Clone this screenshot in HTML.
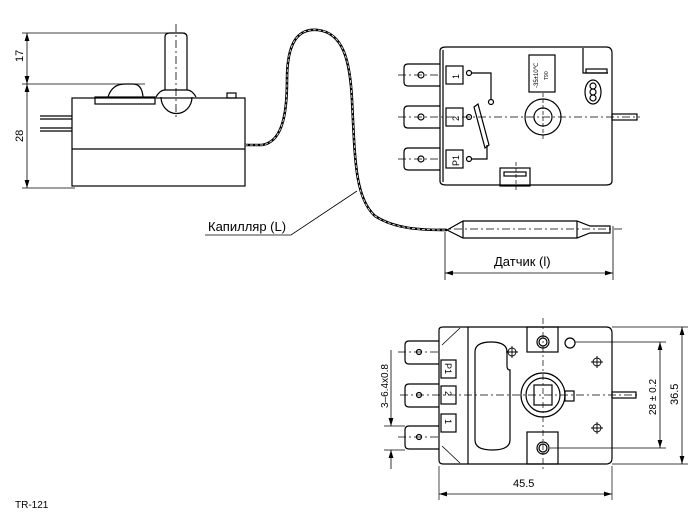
<!DOCTYPE html>
<html><head><meta charset="utf-8"><style>body{margin:0;background:#fff}svg{display:block}text{font-family:"Liberation Sans",sans-serif;fill:#000}</style></head><body>
<svg width="700" height="525" viewBox="0 0 700 525" xmlns="http://www.w3.org/2000/svg" fill="none" stroke="#000" stroke-width="1.2">
<defs><marker id="a" viewBox="0 0 10 6" refX="10" refY="3" markerWidth="10" markerHeight="6" orient="auto-start-reverse"><path d="M0,0L10,3L0,6z" fill="#000" stroke="none"/></marker></defs>
<!-- side view -->
<g>
<line x1="22" y1="33" x2="185" y2="33" stroke-width="0.8"/>
<line x1="22" y1="84" x2="145" y2="84" stroke-width="0.8"/>
<line x1="22" y1="188" x2="75" y2="188" stroke-width="0.8"/>
<line x1="27" y1="33" x2="27" y2="84" marker-start="url(#a)" marker-end="url(#a)" stroke-width="0.8"/>
<line x1="27" y1="84" x2="27" y2="188" marker-start="url(#a)" marker-end="url(#a)" stroke-width="0.8"/>
<text x="0" y="0" transform="translate(23,62) rotate(-90)" font-size="11" stroke="none">17</text>
<text x="0" y="0" transform="translate(23,142) rotate(-90)" font-size="11" stroke="none">28</text>
<rect x="72" y="98" width="173" height="88"/>
<line x1="72" y1="149" x2="245" y2="149"/>
<path d="M165,90 V37 Q165,33 170,33 H182 Q187,33 187,37 V90"/>
<path d="M156,97 Q160,90 165,90 H187 Q192,90 196,97"/>
<path d="M161,97 A15,16 0 0 0 192,97"/>
<rect x="95" y="97" width="60" height="7"/>
<path d="M108,97 Q112,84 125,84 H133 Q142,84 143,97"/>
<rect x="227" y="93" width="9" height="5"/>
<line x1="40" y1="116" x2="72" y2="116"/><line x1="40" y1="119" x2="72" y2="119"/>
<line x1="40" y1="128" x2="72" y2="128"/><line x1="40" y1="131" x2="72" y2="131"/>
<line x1="176" y1="24" x2="176" y2="117" stroke-dasharray="8,3,2,3" stroke-width="0.8"/>
</g>
<!-- capillary -->
<path d="M245,145 H262 C282,142 287,115 287,80 C287,42 298,28 318,30 C343,33 350,60 352,100 C355,160 355,198 375,216 C395,229 420,230 447,230" stroke-width="2.6"/>
<path d="M245,145 H262 C282,142 287,115 287,80 C287,42 298,28 318,30 C343,33 350,60 352,100 C355,160 355,198 375,216 C395,229 420,230 447,230" stroke="#fff" stroke-width="0.8" stroke-dasharray="3,2"/>
<!-- sensor -->
<path d="M447,230 L463,221 H577 L590,226 H610 V233 H590 L577,238 H463 Z"/>
<line x1="463" y1="221" x2="463" y2="238"/><line x1="577" y1="221" x2="577" y2="238"/>
<line x1="438" y1="229" x2="625" y2="229" stroke-dasharray="8,3,2,3" stroke-width="0.8"/>
<line x1="445" y1="232" x2="445" y2="280" stroke-width="0.8"/>
<line x1="613" y1="226" x2="613" y2="280" stroke-width="0.8"/>
<line x1="445" y1="273" x2="613" y2="273" marker-start="url(#a)" marker-end="url(#a)" stroke-width="0.8"/>
<text x="494" y="266" font-size="13" stroke="none">Датчик (l)</text>
<text x="208" y="231" font-size="13" stroke="none">Капилляр (L)</text>
<polyline points="205,235 291,235 357,191" stroke-width="0.8"/>
<!-- top view -->
<g>
<path d="M440,51 Q440,47 446,47 H606 Q612,47 612,53 V181 Q612,185 606,185 H446 Q440,185 440,181 Z"/>
<line x1="443" y1="50" x2="443" y2="182"/>
<path d="M583,48 V73 H608"/><rect x="586" y="69" width="21" height="4"/>
<rect x="500" y="168" width="30" height="18"/><rect x="504" y="172" width="22" height="4"/>
<rect x="529" y="55" width="26" height="37"/>
<text transform="translate(538,88) rotate(-90)" font-size="6" stroke="none">-35±10℃</text>
<text transform="translate(548,80) rotate(-90)" font-size="5" stroke="none">T90</text>
<ellipse cx="593" cy="92" rx="8" ry="12"/><circle cx="593" cy="86" r="3"/><circle cx="593" cy="92" r="3"/><circle cx="593" cy="98" r="3"/>
<circle cx="543" cy="117" r="18"/><circle cx="543" cy="117" r="9"/>
<line x1="543" y1="93" x2="543" y2="141" stroke-dasharray="4,2" stroke-width="0.7"/>
<line x1="516" y1="162" x2="516" y2="192" stroke-dasharray="4,2" stroke-width="0.7"/>
<rect x="612" y="114" width="25" height="6"/>
<g id="t1"><path d="M440,64 H408 Q404,64 404,68 V82 Q404,86 408,86 H440"/><circle cx="421" cy="75" r="3"/></g>
<use href="#t1" y="42"/><use href="#t1" y="84"/>
<line x1="398" y1="75" x2="440" y2="75" stroke-dasharray="8,3,2,3" stroke-width="0.7"/>
<line x1="398" y1="159" x2="440" y2="159" stroke-dasharray="8,3,2,3" stroke-width="0.7"/>
<line x1="398" y1="117" x2="640" y2="117" stroke-dasharray="8,3,2,3" stroke-width="0.8"/>
<rect x="446" y="66" width="17" height="18"/><rect x="446" y="108" width="17" height="18"/><rect x="446" y="150" width="17" height="18"/>
<text transform="translate(459,79) rotate(-90)" font-size="9" stroke="none">1</text>
<text transform="translate(459,121) rotate(-90)" font-size="9" stroke="none">2</text>
<text transform="translate(459,166) rotate(-90)" font-size="9" stroke="none">P1</text>
<circle cx="469" cy="73" r="2.5"/><circle cx="469" cy="117" r="2.5"/><circle cx="469" cy="159" r="2.5"/><circle cx="491" cy="102" r="2.5"/>
<polyline points="471,73 491,73 491,100"/>
<polyline points="471,159 487,159 487,145"/>
<path d="M474,107 L478,104 L489,145 L485,148 Z"/>
</g>
<!-- bottom view -->
<g>
<path d="M439,330 Q439,327 443,327 H606 Q612,327 612,333 V458 Q612,464 606,464 H443 Q439,464 439,460 Z"/>
<line x1="468" y1="327" x2="468" y2="464"/>
<line x1="442" y1="345" x2="460" y2="328" stroke-width="0.8"/><line x1="442" y1="446" x2="460" y2="463" stroke-width="0.8"/>
<path d="M475,352 Q475,342 491,342 Q507,342 507,352 V366 Q507,370 510,370 V440 Q510,450 492,450 Q475,450 475,440 Z"/>
<rect x="527" y="327" width="31" height="25"/><rect x="527" y="432" width="31" height="32"/>
<circle cx="543" cy="342" r="6"/><circle cx="543" cy="342" r="4"/><circle cx="543" cy="448" r="6"/><circle cx="543" cy="448" r="4"/>
<circle cx="570" cy="343" r="5"/>
<circle cx="543" cy="395" r="22"/><circle cx="543" cy="395" r="17"/><rect x="534" y="385" width="18" height="20"/>
<rect x="565" y="391" width="9" height="10"/>
<rect x="612" y="392" width="24" height="6"/>
<line x1="543" y1="318" x2="543" y2="470" stroke-dasharray="6,3,2,3" stroke-width="0.7"/>
<line x1="400" y1="395" x2="640" y2="395" stroke-dasharray="8,3,2,3" stroke-width="0.8"/>
<g stroke-width="0.9"><circle cx="512" cy="352" r="4"/><circle cx="597" cy="362" r="4"/><circle cx="597" cy="428" r="4"/>
<path d="M512,346V358M506,352H518M597,356V368M591,362H603M597,422V434M591,428H603"/></g>
<g id="t2"><path d="M439,341 H409 Q405,341 405,345 V360 Q405,364 409,364 H439"/><circle cx="419" cy="352" r="2.5"/></g>
<use href="#t2" y="43"/><use href="#t2" y="85"/>
<line x1="398" y1="352" x2="439" y2="352" stroke-dasharray="8,3,2,3" stroke-width="0.7"/>
<line x1="398" y1="437" x2="439" y2="437" stroke-dasharray="8,3,2,3" stroke-width="0.7"/>
<rect x="441" y="360" width="15" height="18"/><rect x="441" y="386" width="15" height="18"/><rect x="441" y="414" width="15" height="18"/>
<text transform="translate(445,363) rotate(90)" font-size="9" stroke="none">P1</text>
<text transform="translate(445,391) rotate(90)" font-size="9" stroke="none">2</text>
<text transform="translate(445,419) rotate(90)" font-size="9" stroke="none">1</text>
<line x1="384" y1="426" x2="405" y2="426" stroke-width="0.7"/><line x1="384" y1="450" x2="405" y2="450" stroke-width="0.7"/>
<line x1="391" y1="350" x2="391" y2="426" marker-end="url(#a)" stroke-width="0.8"/>
<line x1="391" y1="469" x2="391" y2="450" marker-end="url(#a)" stroke-width="0.8"/>
<text transform="translate(388,408) rotate(-90)" font-size="10" stroke="none">3–6.4x0.8</text>
<line x1="439" y1="466" x2="439" y2="500" stroke-width="0.7"/><line x1="612" y1="466" x2="612" y2="500" stroke-width="0.7"/>
<line x1="439" y1="494" x2="612" y2="494" marker-start="url(#a)" marker-end="url(#a)" stroke-width="0.8"/>
<text x="513" y="487" font-size="11" stroke="none">45.5</text>
<line x1="575" y1="342" x2="666" y2="342" stroke-width="0.7"/><line x1="550" y1="448" x2="666" y2="448" stroke-width="0.7"/>
<line x1="612" y1="327" x2="688" y2="327" stroke-width="0.7"/><line x1="612" y1="464" x2="688" y2="464" stroke-width="0.7"/>
<line x1="660" y1="342" x2="660" y2="448" marker-start="url(#a)" marker-end="url(#a)" stroke-width="0.8"/>
<line x1="682" y1="327" x2="682" y2="464" marker-start="url(#a)" marker-end="url(#a)" stroke-width="0.8"/>
<text transform="translate(656,415) rotate(-90)" font-size="10" stroke="none">28 ± 0.2</text>
<text transform="translate(678,405) rotate(-90)" font-size="11" stroke="none">36.5</text>
</g>
<text x="15" y="508" font-size="10" stroke="none">TR-121</text>
</svg>
</body></html>
